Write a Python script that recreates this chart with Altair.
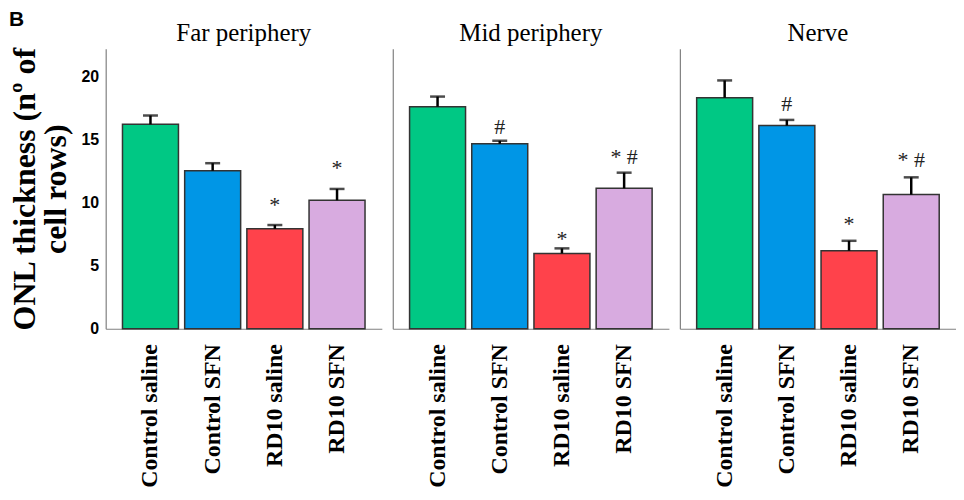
import altair as alt
import pandas as pd

regions = ["Far periphery", "Mid periphery", "Nerve"]
groups = ["Control saline", "Control SFN", "RD10 saline", "RD10 SFN"]
colors = ["#00c884", "#0096e6", "#ff424b", "#d8abe0"]

far_mean = [16.2, 12.52, 7.92, 10.18]
far_sem = [0.7, 0.6, 0.3, 0.9]
mid_mean = [17.6, 14.66, 5.97, 11.13]
mid_sem = [0.8, 0.24, 0.4, 1.24]
nerve_mean = [18.31, 16.1, 6.18, 10.63]
nerve_sem = [1.37, 0.45, 0.79, 1.37]

ann_region = ["Far periphery", "Far periphery",
              "Mid periphery", "Mid periphery", "Mid periphery",
              "Nerve", "Nerve", "Nerve"]
ann_group = ["RD10 saline", "RD10 SFN",
             "Control SFN", "RD10 saline", "RD10 SFN",
             "Control SFN", "RD10 saline", "RD10 SFN"]
ann_label = ["*", "*", "#", "*", "* #", "#", "*", "* #"]
ann_y = [9.23, 12.22, 15.45, 6.58, 13.08, 17.28, 7.74, 12.81]

y_ticks = [0, 5, 10, 15, 20]
y_title = ["ONL thickness (nº of", "cell rows)"]

means = [far_mean, mid_mean, nerve_mean]
sems = [far_sem, mid_sem, nerve_sem]

ann_df = pd.DataFrame({"region": ann_region, "group": ann_group,
                       "label": ann_label, "y": ann_y})

SERIF = "Liberation Serif"
SANS = "Liberation Sans"
W, H = 277, 281


def panel(i):
    region = regions[i]
    df = pd.DataFrame({"group": groups, "mean": means[i], "sem": sems[i]})
    df["top"] = df["mean"] + df["sem"]
    adf = ann_df[ann_df["region"] == region]

    xs = alt.Scale(domain=groups, paddingInner=0.1, paddingOuter=0.27)
    ys = alt.Scale(domain=[0, 22.2], nice=False, zero=True)

    xaxis = alt.Axis(labelAngle=-90, labelFont=SERIF, labelFontWeight="bold",
                     labelFontSize=24, labelPadding=15, labelColor="black",
                     ticks=False, domainColor="#808080", domainWidth=1.2,
                     labelAlign="right", labelBaseline="middle")
    if i == 0:
        yaxis = alt.Axis(values=y_ticks, ticks=False, labelFont=SANS,
                         labelFontWeight="bold", labelFontSize=16,
                         labelColor="black", labelPadding=7,
                         domainColor="#808080", domainWidth=1.2,
                         grid=False, title=y_title, titleFont=SERIF,
                         titleFontSize=32, titleFontWeight="bold",
                         titleColor="black", titlePadding=9,
                         titleLineHeight=31)
    else:
        yaxis = alt.Axis(values=y_ticks, ticks=False, labels=False,
                         domainColor="#808080", domainWidth=1.2,
                         grid=False, title=None)

    x = alt.X("group:N", scale=xs, axis=xaxis, title=None, sort=groups)

    bars = alt.Chart(df).mark_bar(stroke="#333333", strokeWidth=1.5).encode(
        x=x,
        y=alt.Y("mean:Q", scale=ys, axis=yaxis),
        color=alt.Color("group:N", scale=alt.Scale(domain=groups, range=colors),
                        legend=None),
    )
    err = alt.Chart(df).mark_rule(color="black", strokeWidth=2.5).encode(
        x=x, y="mean:Q", y2="top:Q")
    cap = alt.Chart(df).mark_tick(color="black", thickness=2.5, size=15).encode(
        x=x, y="top:Q")
    txt = alt.Chart(adf).mark_text(font=SERIF, fontSize=22, baseline="alphabetic",
                                   color="#222222").encode(
        x=x, y="y:Q", text="label:N")
    ttl = alt.Chart(pd.DataFrame({"t": [region]})).mark_text(
        font=SERIF, fontSize=25, align="center", baseline="alphabetic",
        color="black").encode(x=alt.value(W / 2), y=alt.value(-8), text="t:N")
    layers = [bars, err, cap, txt, ttl]
    if i == 0:
        b = alt.Chart(pd.DataFrame({"t": ["B"]})).mark_text(
            font=SANS, fontWeight="bold", fontSize=21, align="left",
            baseline="top", color="black").encode(
            x=alt.value(-97), y=alt.value(-40), text="t:N")
        layers.append(b)
    return alt.layer(*layers).properties(width=W, height=H)


chart = alt.hconcat(*[panel(i) for i in range(3)], spacing=11).configure_view(
    stroke=None).properties(padding={"left": 0, "top": 0, "right": 0, "bottom": 0})

chart.save("out.html", embed_options={"renderer": "svg", "actions": False})
